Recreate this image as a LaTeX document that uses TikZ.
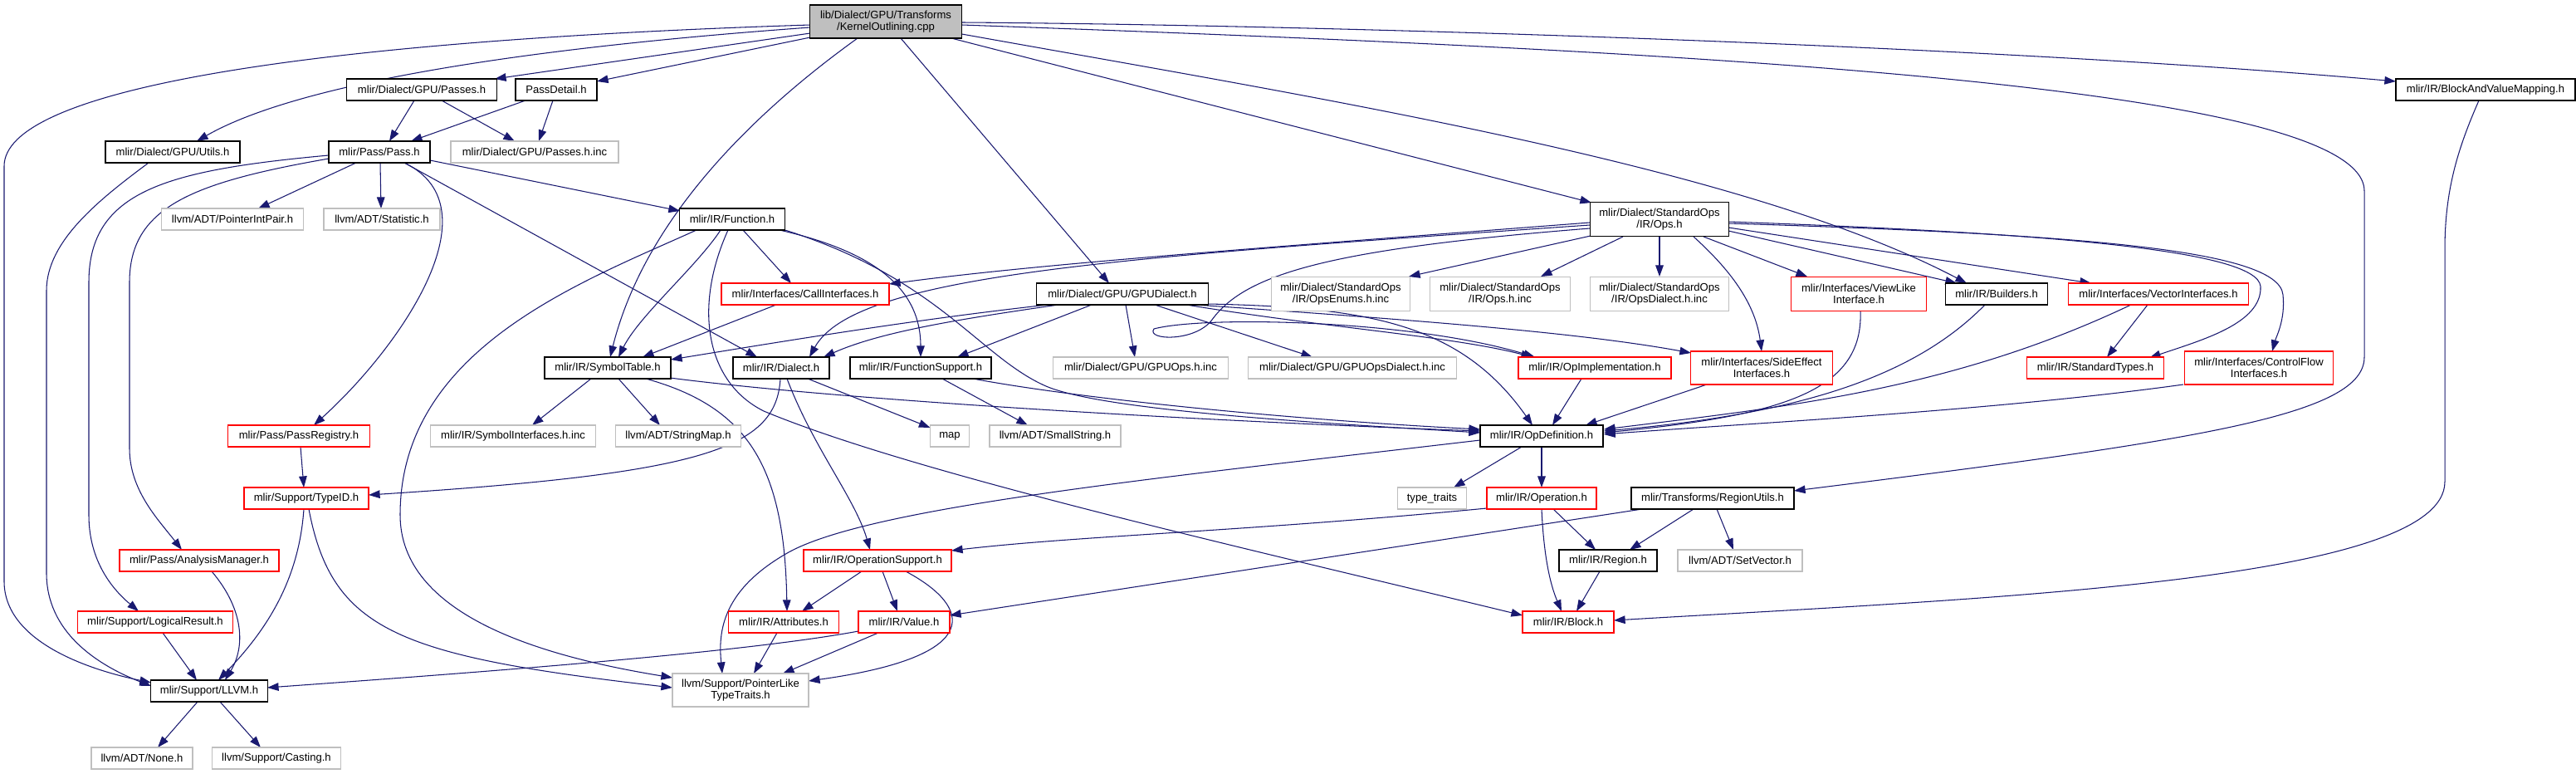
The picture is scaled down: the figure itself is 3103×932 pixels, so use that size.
\documentclass[tikz,border=0pt]{standalone}
\usepackage{fontspec}
\setmainfont{Liberation Sans}
\usetikzlibrary{arrows.meta,calc}
\pgfdeclarelayer{bg}
\pgfsetlayers{bg,main}
\definecolor{edgec}{HTML}{191970}
\definecolor{grayc}{HTML}{BFBFBF}
\definecolor{redc}{HTML}{FF0000}
\newcommand{\dxfont}{\fontsize{9.3}{9.96}\selectfont}
\begin{document}
\begin{tikzpicture}[x=0.025cm,y=-0.025cm,
  nb/.style={draw=black, line width=0.9pt, rectangle, inner sep=0pt, minimum height=0.65cm, align=center, font=\dxfont, fill=white},
  nr/.style={nb, draw=redc},
  ng/.style={nb, draw=grayc},
  two/.style={minimum height=1.025cm},
  dep/.style={draw=edgec, line width=0.75pt, -{Triangle[length=3.4mm,width=2.4mm]}}]
\useasboundingbox (0,0) rectangle (3103,932);
% nodes
\node[nb, fill=grayc, minimum width=4.575cm, minimum height=1cm] (ko) at (1067,26) {lib/Dialect/GPU/Transforms\\/KernelOutlining.cpp};
\node[nb, minimum width=4.525cm] (passes) at (508,108) {mlir/Dialect/GPU/Passes.h};
\node[nb, minimum width=2.45cm] (passdetail) at (670,108) {PassDetail.h};
\node[nb, minimum width=5.4cm] (bavm) at (2994,108) {mlir/IR/BlockAndValueMapping.h};
\node[nb, minimum width=4.05cm] (utils) at (208,183) {mlir/Dialect/GPU/Utils.h};
\node[nb, minimum width=3.05cm] (pass) at (457,183) {mlir/Pass/Pass.h};
\node[ng, minimum width=5.05cm] (passesinc) at (644,183) {mlir/Dialect/GPU/Passes.h.inc};
\node[ng, minimum width=4.275cm] (pip) at (280,264) {llvm/ADT/PointerIntPair.h};
\node[ng, minimum width=3.5cm] (stat) at (460,264) {llvm/ADT/Statistic.h};
\node[nb, minimum width=3.175cm] (func) at (882,264) {mlir/IR/Function.h};
\node[nb, two, minimum width=4.175cm] (ops) at (1999,264) {mlir/Dialect/StandardOps\\/IR/Ops.h};
\node[nr, minimum width=5.05cm] (call) at (970,354) {mlir/Interfaces/CallInterfaces.h};
\node[nb, minimum width=5.175cm] (gpud) at (1352,354) {mlir/Dialect/GPU/GPUDialect.h};
\node[ng, two, minimum width=4.175cm] (opsenums) at (1615,354) {mlir/Dialect/StandardOps\\/IR/OpsEnums.h.inc};
\node[ng, two, minimum width=4.225cm] (opsinc) at (1807,354) {mlir/Dialect/StandardOps\\/IR/Ops.h.inc};
\node[ng, two, minimum width=4.175cm] (opsdialect) at (1999,354) {mlir/Dialect/StandardOps\\/IR/OpsDialect.h.inc};
\node[nr, two, minimum width=4.075cm] (viewlike) at (2239,354) {mlir/Interfaces/ViewLike\\Interface.h};
\node[nb, minimum width=3.075cm] (builders) at (2405,354) {mlir/IR/Builders.h};
\node[nr, minimum width=5.425cm] (vector) at (2600,354) {mlir/Interfaces/VectorInterfaces.h};
\node[nb, minimum width=3.8cm] (symtab) at (732,443) {mlir/IR/SymbolTable.h};
\node[nb, minimum width=2.9cm] (dialect) at (941,443) {mlir/IR/Dialect.h};
\node[nb, minimum width=4.25cm] (funcsup) at (1109,443) {mlir/IR/FunctionSupport.h};
\node[ng, minimum width=5.275cm] (gpuops) at (1374,443) {mlir/Dialect/GPU/GPUOps.h.inc};
\node[ng, minimum width=6.275cm] (gpuopsd) at (1629,443) {mlir/Dialect/GPU/GPUOpsDialect.h.inc};
\node[nr, minimum width=4.6cm] (opimpl) at (1921,443) {mlir/IR/OpImplementation.h};
\node[nr, minimum width=4.275cm, minimum height=1cm] (sideeff) at (2122,443) {mlir/Interfaces/SideEffect\\Interfaces.h};
\node[nr, minimum width=4.125cm] (stdtypes) at (2524,443) {mlir/IR/StandardTypes.h};
\node[nr, minimum width=4.475cm, minimum height=1cm] (ctrlflow) at (2721,443) {mlir/Interfaces/ControlFlow\\Interfaces.h};
\node[nr, minimum width=4.275cm] (passreg) at (360,525) {mlir/Pass/PassRegistry.h};
\node[ng, minimum width=4.975cm] (symif) at (618,525) {mlir/IR/SymbolInterfaces.h.inc};
\node[ng, minimum width=3.775cm] (stringmap) at (817,525) {llvm/ADT/StringMap.h};
\node[ng, minimum width=1.175cm] (map) at (1144,525) {map};
\node[ng, minimum width=3.95cm] (smallstr) at (1271,525) {llvm/ADT/SmallString.h};
\node[nb, minimum width=3.7cm] (opdef) at (1857,525) {mlir/IR/OpDefinition.h};
\node[nr, minimum width=3.75cm] (typeid) at (369,600) {mlir/Support/TypeID.h};
\node[ng, minimum width=2.075cm] (typetraits) at (1725,600) {type\_traits};
\node[nr, minimum width=3.3cm] (operation) at (1857,600) {mlir/IR/Operation.h};
\node[nb, minimum width=4.9cm] (regionutils) at (2063,600) {mlir/Transforms/RegionUtils.h};
\node[nr, minimum width=4.8cm] (analysis) at (240,675) {mlir/Pass/AnalysisManager.h};
\node[nr, minimum width=4.45cm] (opsupport) at (1057,675) {mlir/IR/OperationSupport.h};
\node[nb, minimum width=2.95cm] (region) at (1937,675) {mlir/IR/Region.h};
\node[ng, minimum width=3.75cm] (setvector) at (2096,675) {llvm/ADT/SetVector.h};
\node[nr, minimum width=4.675cm] (logical) at (187,749) {mlir/Support/LogicalResult.h};
\node[nr, minimum width=3.325cm] (attrs) at (944,749) {mlir/IR/Attributes.h};
\node[nr, minimum width=2.75cm] (value) at (1089,749) {mlir/IR/Value.h};
\node[nr, minimum width=2.75cm] (block) at (1889,749) {mlir/IR/Block.h};
\node[nb, minimum width=3.525cm] (llvm) at (252,832) {mlir/Support/LLVM.h};
\node[ng, minimum width=4.1cm, minimum height=1cm] (pointerlike) at (892,831) {llvm/Support/PointerLike\\TypeTraits.h};
\node[ng, minimum width=3.05cm] (none) at (171,913) {llvm/ADT/None.h};
\node[ng, minimum width=3.875cm] (casting) at (333,913) {llvm/Support/Casting.h};
% edges
\begin{pgfonlayer}{bg}
\fill[white] (0,0) rectangle (3103,932);
% from KernelOutlining.cpp
\draw[dep] ($(ko)+(-91,4)$) .. controls (350,50) and (5,110) .. (5,200) -- (5,700) .. controls (5,770) and (100,805) .. ($(llvm)+(-70,-10)$);
\draw[dep] ($(ko)+(-91,7)$) .. controls (600,60) and (350,105) .. ($(utils)+(29,-13)$);
\draw[dep] ($(ko)+(-91,14)$) -- ($(passes)+(88,-13)$);
\draw[dep] ($(ko)+(-91,19)$) -- ($(passdetail)+(49,-10)$);
\draw[dep] ($(ko)+(-34,20)$) .. controls (930,120) and (780,250) .. ($(symtab)+(3,-13)$);
\draw[dep] ($(ko)+(18,20)$) -- ($(gpud)+(-16,-13)$);
\draw[dep] ($(ko)+(79,20)$) -- ($(ops)+(-82,-20)$);
\draw[dep] ($(ko)+(91.5,15)$) .. controls (1600,120) and (2100,200) .. ($(builders)+(-36,-13)$);
\draw[dep] ($(ko)+(91.5,1)$) .. controls (1600,30) and (2400,55) .. ($(bavm)+(-108,-10)$);
\draw[dep] ($(ko)+(91.5,4)$) .. controls (2000,60) and (2848,100) .. (2848,230) -- (2848,430) .. controls (2848,500) and (2650,530) .. ($(regionutils)+(98,-9)$);
% Passes.h, PassDetail.h, Utils.h
\draw[dep] ($(passes)+(-9,13)$) -- ($(pass)+(12,-13)$);
\draw[dep] ($(passes)+(24,13)$) -- ($(passesinc)+(-24,-13)$);
\draw[dep] ($(passdetail)+(-37,13)$) -- ($(pass)+(38,-13)$);
\draw[dep] ($(passdetail)+(-4,13)$) -- ($(passesinc)+(5,-13)$);
\draw[dep] ($(utils)+(-29,13)$) .. controls (120,240) and (56,290) .. (56,350) -- (56,690) .. controls (56,760) and (115,800) .. ($(llvm)+(-70,-6)$);
% Pass.h
\draw[dep] ($(pass)+(-28,13)$) -- ($(pip)+(31,-13)$);
\draw[dep] ($(pass)+(1,13)$) -- ($(stat)+(-1,-13)$);
\draw[dep] ($(pass)+(61,10)$) -- ($(func)+(-63,-10)$);
\draw[dep] ($(pass)+(30,13)$) -- ($(dialect)+(-29,-13)$);
\draw[dep] ($(pass)+(30,13)$) .. controls (600,250) and (480,420) .. ($(passreg)+(18,-13)$);
\draw[dep] ($(pass)+(-61,4)$) .. controls (200,205) and (107,230) .. (107,340) -- (107,620) .. controls (107,670) and (130,705) .. ($(logical)+(-20,-13)$);
\draw[dep] ($(pass)+(-61,8)$) .. controls (230,220) and (156,250) .. (156,340) -- (156,540) .. controls (156,590) and (190,625) .. ($(analysis)+(-21,-13)$);
% Function.h
\draw[dep] ($(func)+(13,13)$) -- ($(call)+(-17,-13)$);
\draw[dep] ($(func)+(-14,13)$) .. controls (840,320) and (770,380) .. ($(symtab)+(13,-13)$);
\draw[dep] ($(func)+(57,13)$) .. controls (1040,300) and (1109,340) .. ($(funcsup)+(0,-13)$);
\draw[dep] ($(func)+(63.5,13)$) .. controls (1130,335) and (1180,430) .. (1260,465) .. controls (1330,495) and (1600,510) .. ($(opdef)+(-74,-4)$);
\draw[dep] ($(func)+(-5,13)$) .. controls (835,370) and (850,460) .. (920,495) .. controls (1100,570) and (1500,660) .. ($(block)+(-55,-8)$);
\draw[dep] ($(func)+(-43,13)$) .. controls (700,340) and (482,420) .. (482,620) .. controls (482,740) and (650,790) .. ($(pointerlike)+(-82,-15)$);
\draw[dep] ($(call)+(-35,13)$) -- ($(symtab)+(42,-13)$);
% GPUDialect.h
\draw[dep] ($(gpud)+(-90,13)$) .. controls (1100,385) and (950,410) .. ($(symtab)+(76,-10)$);
\draw[dep] ($(gpud)+(-77,13)$) .. controls (1150,385) and (1060,400) .. ($(dialect)+(51,-13)$);
\draw[dep] ($(gpud)+(-37,13)$) -- ($(funcsup)+(44,-13)$);
\draw[dep] ($(gpud)+(4,13)$) -- ($(gpuops)+(-7,-13)$);
\draw[dep] ($(gpud)+(39,13)$) -- ($(gpuopsd)+(-48,-13)$);
\draw[dep] ($(gpud)+(77,13)$) .. controls (1600,395) and (1750,405) .. ($(opimpl)+(-75,-13)$);
\draw[dep] ($(gpud)+(88,13)$) .. controls (1700,385) and (1900,400) .. ($(sideeff)+(-85,-18)$);
\draw[dep] ($(gpud)+(103,12)$) .. controls (1650,370) and (1760,390) .. ($(opdef)+(-11,-13)$);
% StandardOps/IR/Ops.h
\draw[dep] ($(ops)+(-83,20)$) -- ($(opsenums)+(82,-21)$);
\draw[dep] ($(ops)+(-44,21)$) -- ($(opsinc)+(49,-21)$);
\draw[dep] ($(ops)+(0,21)$) -- ($(opsdialect)+(0,-21)$);
\draw[dep] ($(ops)+(41,21)$) .. controls (2090,330) and (2115,370) .. ($(sideeff)+(0,-20)$);
\draw[dep] ($(ops)+(53,21)$) -- ($(viewlike)+(-62,-21)$);
\draw[dep] ($(ops)+(83,14)$) -- ($(builders)+(-48,-13)$);
\draw[dep] ($(ops)+(83,10)$) -- ($(vector)+(-81,-13)$);
\draw[dep] ($(ops)+(83,3)$) .. controls (2450,280) and (2720,300) .. (2723,345) .. controls (2725,390) and (2650,410) .. ($(stdtypes)+(65,-12)$);
\draw[dep] ($(ops)+(83,5)$) .. controls (2500,282) and (2745,300) .. (2750,355) .. controls (2753,385) and (2742,405) .. ($(ctrlflow)+(16,-20)$);
\draw[dep] ($(ops)+(-84,4)$) .. controls (1500,300) and (1250,318) .. ($(call)+(101,-12)$);
\draw[dep] ($(ops)+(-84,7)$) .. controls (1350,310) and (1030,330) .. ($(dialect)+(34,-13)$);
\draw[dep] ($(ops)+(-84,11)$) .. controls (1600,300) and (1500,330) .. (1460,385) .. controls (1440,412) and (1380,410) .. (1390,396) .. controls (1450,380) and (1700,385) .. ($(opimpl)+(-72,-13)$);
% into OpDefinition.h
\draw[dep] ($(viewlike)+(2,20)$) .. controls (2245,470) and (2150,500) .. ($(opdef)+(75,-4)$);
\draw[dep] ($(builders)+(-14,13)$) .. controls (2300,460) and (2150,500) .. ($(opdef)+(75,-6)$);
\draw[dep] ($(vector)+(-33,13)$) .. controls (2350,470) and (2150,490) .. ($(opdef)+(75,-8)$);
\draw[dep] ($(vector)+(-13,13)$) -- ($(stdtypes)+(14,-13)$);
\draw[dep] ($(ctrlflow)+(-91,20)$) .. controls (2400,495) and (2100,510) .. ($(opdef)+(75,-2)$);
\draw[dep] ($(sideeff)+(-66,20)$) -- ($(opdef)+(53,-13)$);
\draw[dep] ($(opimpl)+(-16,13)$) -- ($(opdef)+(13,-13)$);
% SymbolTable.h, Dialect.h, FunctionSupport.h
\draw[dep] ($(symtab)+(-20,13)$) -- ($(symif)+(23,-13)$);
\draw[dep] ($(symtab)+(13,13)$) -- ($(stringmap)+(-22,-13)$);
\draw[dep] ($(symtab)+(46,13)$) .. controls (900,490) and (945,560) .. ($(attrs)+(4,-13)$);
\draw[dep] ($(symtab)+(75,12)$) .. controls (1000,480) and (1400,505) .. ($(opdef)+(-74,-6)$);
\draw[dep] ($(dialect)+(-1,13)$) .. controls (935,540) and (850,570) .. ($(typeid)+(75,-4)$);
\draw[dep] ($(dialect)+(32,13)$) -- ($(map)+(-23.5,-10)$);
\draw[dep] ($(dialect)+(7,13)$) .. controls (980,540) and (1030,600) .. ($(opsupport)+(-9,-13)$);
\draw[dep] ($(funcsup)+(26,13)$) -- ($(smallstr)+(-33,-13)$);
\draw[dep] ($(funcsup)+(63,13)$) .. controls (1300,480) and (1550,505) .. ($(opdef)+(-74,-8)$);
% Pass support headers
\draw[dep] ($(passreg)+(2,13)$) -- ($(typeid)+(-3,-13)$);
\draw[dep] ($(typeid)+(-3,13)$) .. controls (360,700) and (320,760) .. ($(llvm)+(11,-13)$);
\draw[dep] ($(typeid)+(3,13)$) .. controls (400,760) and (480,790) .. ($(pointerlike)+(-82,-3)$);
\draw[dep] ($(analysis)+(15,13)$) .. controls (295,735) and (295,780) .. ($(llvm)+(19,-13)$);
\draw[dep] ($(logical)+(9,13)$) -- ($(llvm)+(-15,-13)$);
\draw[dep] ($(llvm)+(-14,13)$) -- ($(none)+(19,-13)$);
\draw[dep] ($(llvm)+(13,13)$) -- ($(casting)+(-19,-13)$);
\draw[dep] ($(value)+(-55,11)$) .. controls (900,785) and (600,808) .. ($(llvm)+(70,-4)$);
% OpDefinition.h and below
\draw[dep] ($(opdef)+(-24,13)$) -- ($(typetraits)+(26,-13)$);
\draw[dep] ($(opdef)+(0,13)$) -- ($(operation)+(0,-13)$);
\draw[dep] ($(opdef)+(-74,5)$) .. controls (1400,575) and (1050,610) .. (950,665) .. controls (870,710) and (865,760) .. ($(pointerlike)+(-22,-20)$);
\draw[dep] ($(operation)+(-66,12)$) .. controls (1500,640) and (1300,645) .. ($(opsupport)+(89,-12)$);
\draw[dep] ($(operation)+(14,13)$) -- ($(region)+(-15,-13)$);
\draw[dep] ($(operation)+(0,13)$) .. controls (1860,680) and (1870,710) .. ($(block)+(-8,-13)$);
\draw[dep] ($(regionutils)+(-23,13)$) -- ($(region)+(26,-13)$);
\draw[dep] ($(regionutils)+(5,13)$) -- ($(setvector)+(-8,-13)$);
\draw[dep] ($(regionutils)+(-85,13)$) -- ($(value)+(55,-8)$);
\draw[dep] ($(region)+(-10,13)$) -- ($(block)+(10,-13)$);
\draw[dep] ($(bavm)+(-8,13)$) .. controls (2960,180) and (2945,230) .. (2945,300) -- (2945,580) .. controls (2945,700) and (2400,720) .. ($(block)+(55,-2)$);
\draw[dep] ($(opsupport)+(-19,13)$) -- ($(attrs)+(22,-13)$);
\draw[dep] ($(opsupport)+(6,13)$) -- ($(value)+(-8,-13)$);
\draw[dep] ($(opsupport)+(34,13)$) .. controls (1170,730) and (1190,790) .. ($(pointerlike)+(82,-11)$);
\draw[dep] ($(attrs)+(-8,13)$) -- ($(pointerlike)+(16,-20)$);
\draw[dep] ($(value)+(-31,13)$) -- ($(pointerlike)+(51,-20)$);
\end{pgfonlayer}
\end{tikzpicture}
\end{document}
